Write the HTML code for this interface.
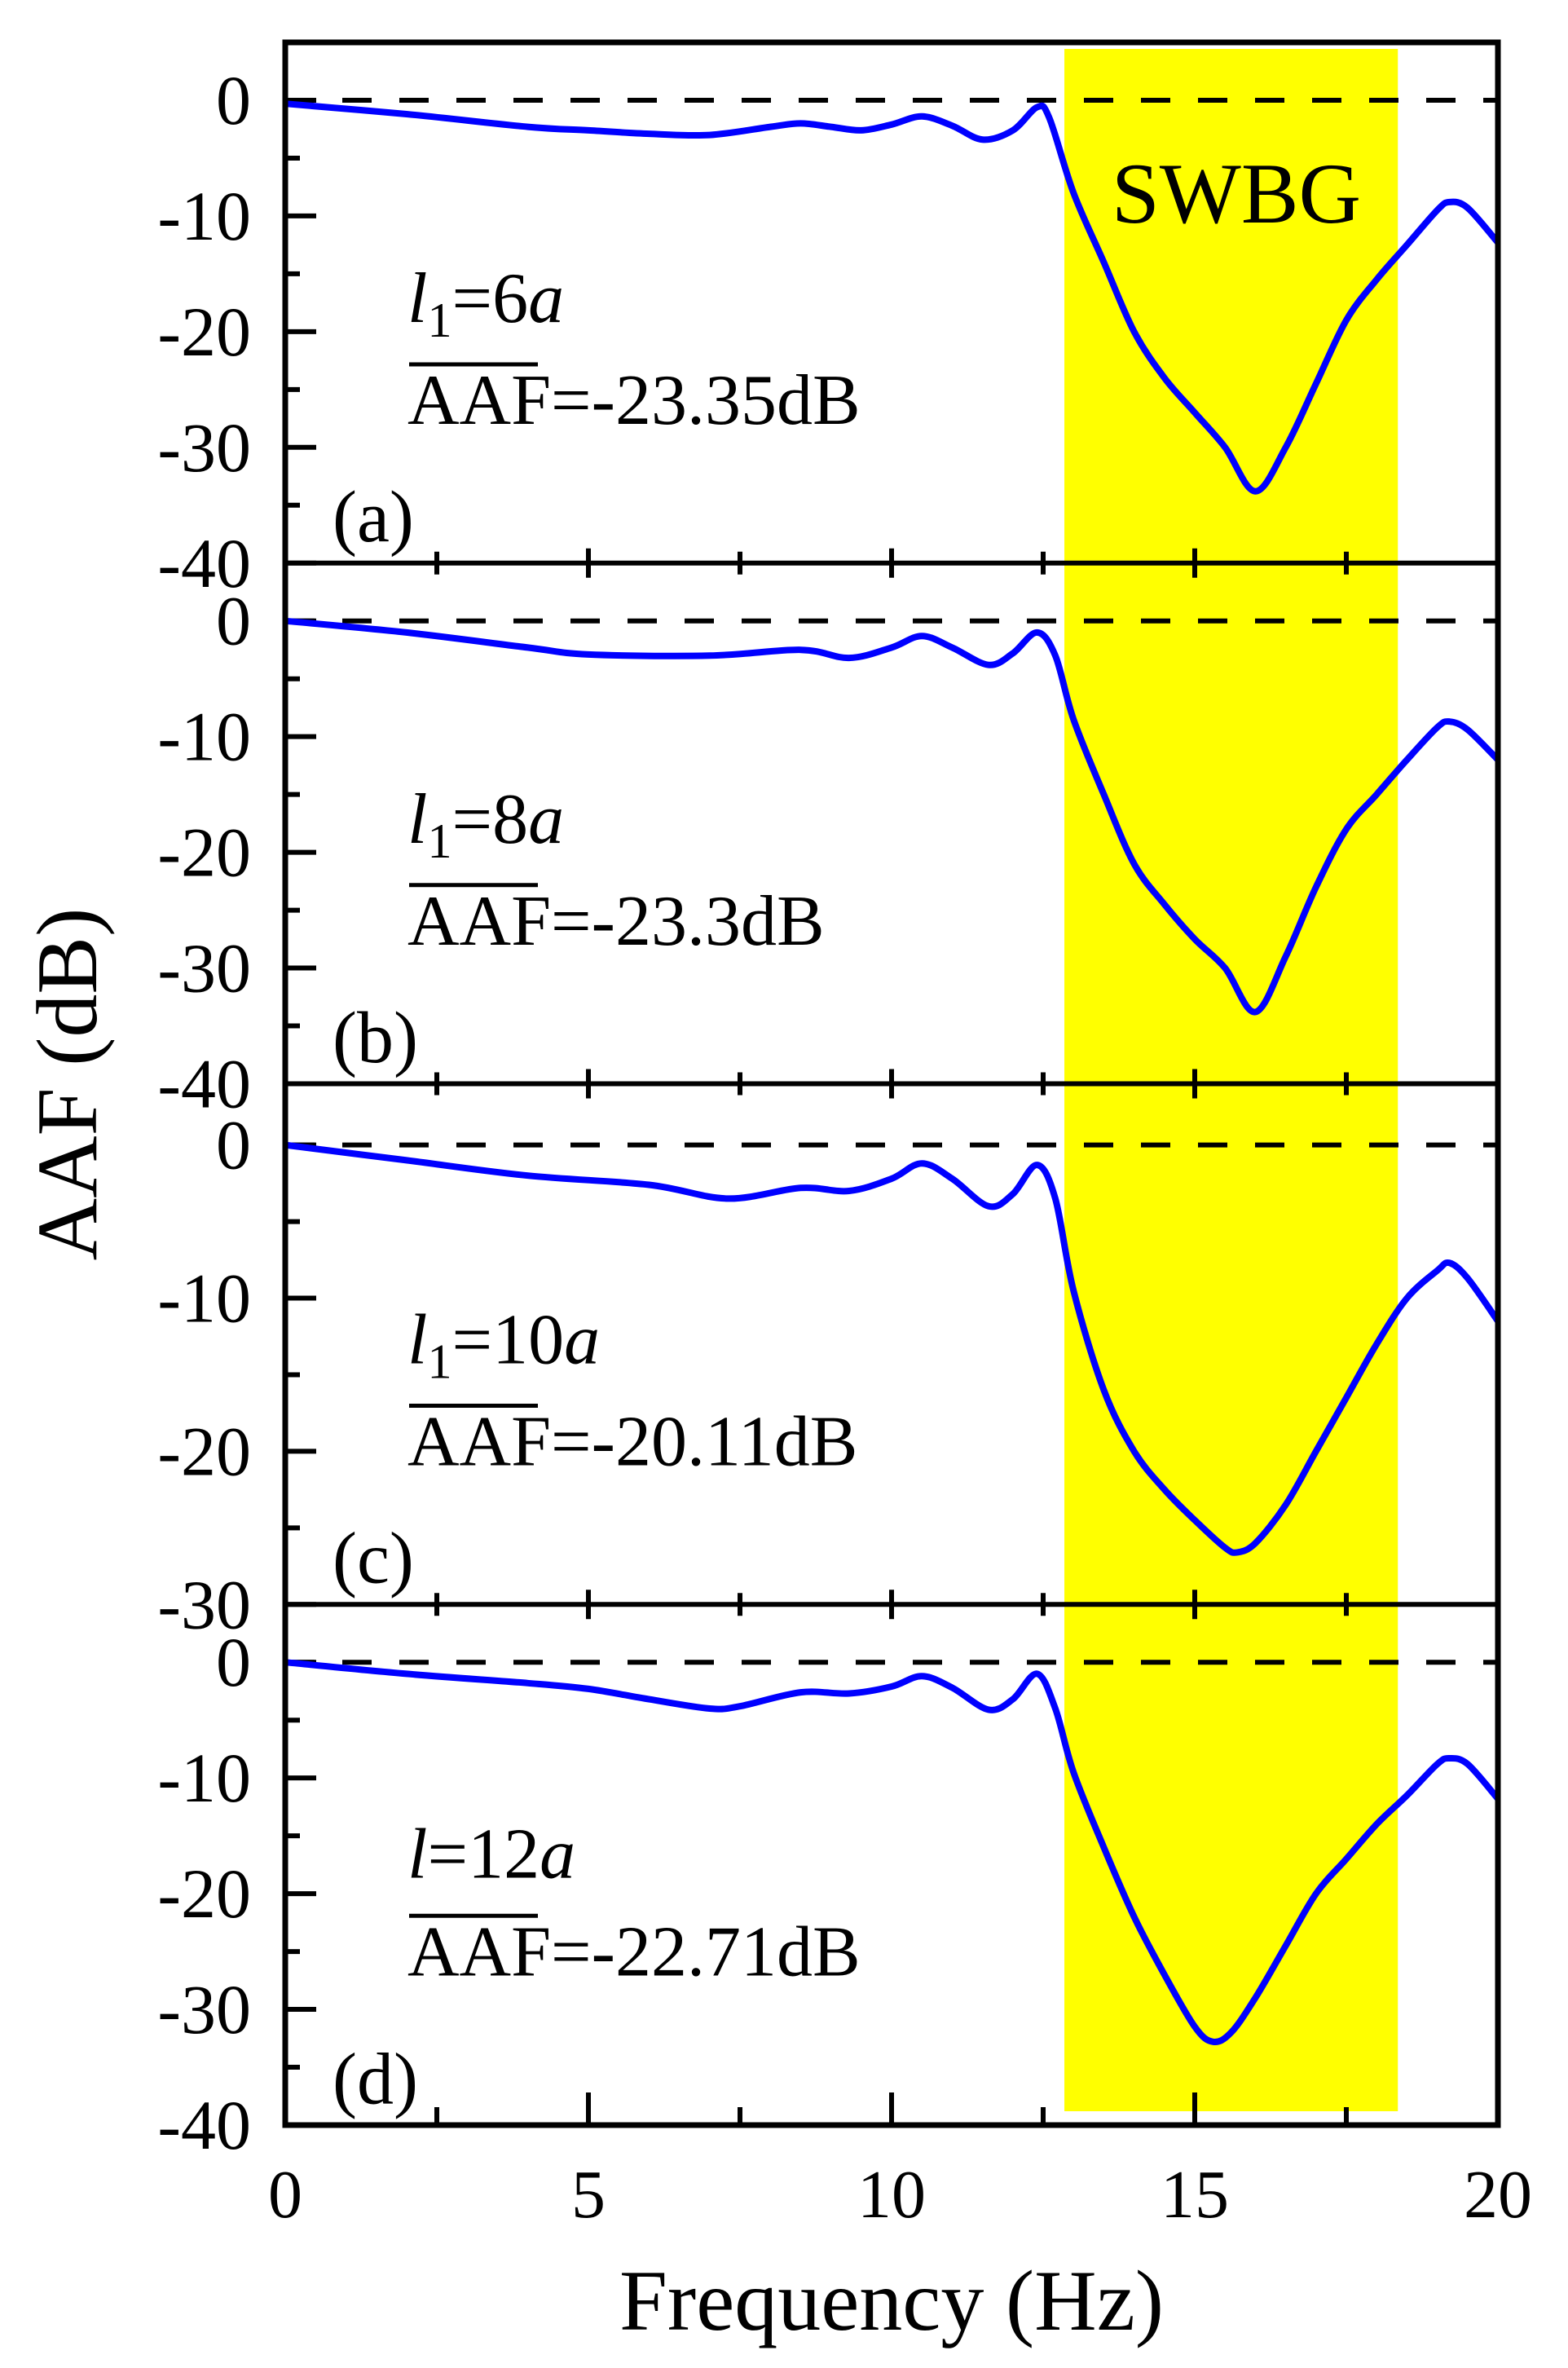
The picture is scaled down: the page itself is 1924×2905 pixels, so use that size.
<!DOCTYPE html>
<html><head><meta charset="utf-8"><style>
html,body{margin:0;padding:0;background:#fff;}
svg{display:block;font-family:"Liberation Serif",serif;}
</style></head><body>
<svg id="chart" width="1924" height="2905" viewBox="0 0 1924 2905" xmlns="http://www.w3.org/2000/svg"></svg>
<script>
const freqA=[0,2,4,5,6,7,8,8.5,9,9.5,10,10.5,11,11.5,12,12.4,12.6,13,13.5,14,14.5,15,15.5,16,16.5,17,17.5,18,18.5,19,19.2,19.5,20];
const aafA=[-0.3,-1.2,-2.3,-2.6,-2.9,-3.0,-2.3,-2.0,-2.3,-2.6,-2.1,-1.4,-2.2,-3.4,-2.6,-0.6,-1.5,-8,-14,-20,-24,-27,-30,-33.8,-30,-24.5,-19,-15.5,-12.5,-9.5,-8.8,-9.3,-12.3];
const freqB=[0,2,4,5,7,8.5,9.3,10,10.5,11,11.6,12,12.4,12.7,13,13.5,14,14.5,15,15.5,16,16.5,17,17.5,18,18.5,19,19.2,19.5,20];
const aafB=[0,-1,-2.3,-2.9,-3,-2.5,-3.2,-2.3,-1.3,-2.3,-3.8,-2.8,-1.0,-3,-8.5,-15,-21,-24.5,-27.5,-30,-33.8,-29,-23,-18,-15,-12,-9.2,-8.7,-9.4,-12];
const freqC=[0,2,4,6,7.3,8.5,9.3,10,10.5,11,11.6,12,12.4,12.7,13,13.5,14,14.5,15,15.5,15.7,16,16.5,17,17.5,18,18.5,19,19.2,19.5,20];
const aafC=[0,-1.0,-2.0,-2.6,-3.5,-2.8,-3.0,-2.2,-1.2,-2.2,-4.0,-3.2,-1.3,-3.5,-9.5,-16,-20,-22.5,-24.5,-26.3,-26.6,-26,-23.5,-20,-16.5,-13,-10,-8.2,-7.7,-8.7,-11.5];
const freqD=[0,2,4,5,6,7,7.5,8.5,9.3,10,10.5,11,11.6,12,12.4,12.7,13,13.5,14,14.5,15,15.3,15.6,16,16.5,17,17.5,18,18.5,19,19.2,19.5,20];
const aafD=[0,-1.0,-1.8,-2.3,-3.2,-4.0,-3.8,-2.6,-2.7,-2.1,-1.2,-2.2,-4.1,-3.2,-1.0,-4,-9.5,-16,-22,-27,-31.5,-32.8,-32,-29,-24.5,-20,-17,-14,-11.5,-8.8,-8.3,-8.8,-11.8];
const yMins=[-40,-40,-30,-40];
const yMaxs=[5,5,4,5];
const yTickLabels=[["0","-10","-20","-30","-40"],["0","-10","-20","-30","-40"],["0","-10","-20","-30"],["0","-10","-20","-30","-40"]];
const xTickLabels=["0","5","10","15","20"];
const panelLetters=["(a)","(b)","(c)","(d)"];
const lineTexts=[["l","1","=6a"],["l","1","=8a"],["l","1","=10a"],["l","","=12a"]];
const aafTexts=["=-23.35dB","=-23.3dB","=-20.11dB","=-22.71dB"];
const bandStart=12.85, bandEnd=18.35;

const NS="http://www.w3.org/2000/svg";
const svg=document.getElementById('chart');
const L=350,R=1838,TOP=52,PH=638.75;
const xs=f=>L+(f/20)*(R-L);
function mk(tag,attrs,parent){const e=document.createElementNS(NS,tag);for(const k in attrs)e.setAttribute(k,attrs[k]);(parent||svg).appendChild(e);return e;}
const series=[[freqA,aafA],[freqB,aafB],[freqC,aafC],[freqD,aafD]];

const band=mk('rect',{x:xs(bandStart),y:TOP+8,width:xs(bandEnd)-xs(bandStart),height:PH*4-25,fill:'#ffff00'});



function path(fx,fy,ys){
  const p=fx.map((f,i)=>[xs(f),ys(fy[i])]);
  let d='M'+p[0][0].toFixed(1)+','+p[0][1].toFixed(1);
  for(let i=0;i<p.length-1;i++){
    const p0=p[Math.max(0,i-1)],p1=p[i],p2=p[i+1],p3=p[Math.min(p.length-1,i+2)];
    const c1=[p1[0]+(p2[0]-p0[0])/6,p1[1]+(p2[1]-p0[1])/6];
    const c2=[p2[0]-(p3[0]-p1[0])/6,p2[1]-(p3[1]-p1[1])/6];
    d+=`C${c1[0].toFixed(1)},${c1[1].toFixed(1)} ${c2[0].toFixed(1)},${c2[1].toFixed(1)} ${p2[0].toFixed(1)},${p2[1].toFixed(1)}`;
  }
  return d;
}

for(let k=0;k<4;k++){
  const top=TOP+k*PH,bot=top+PH;
  const ymin=yMins[k],ymax=yMaxs[k];
  const ys=v=>top+(ymax-v)/(ymax-ymin)*PH;
  const g=mk('g',{});
  
  
  const z=mk('line',{x1:L,x2:R,y1:ys(0),y2:ys(0),stroke:'#000','stroke-width':6,'stroke-dasharray':'36 34'},g);
  
  
  for(let v=0;v>=ymin;v-=5){
    const major=v%10===0;
    mk('line',{x1:L,x2:L+(major?38:18),y1:ys(v),y2:ys(v),stroke:'#000','stroke-width':6},g);
  }
  yTickLabels[k].forEach(t=>{
    const v=parseFloat(t);
    const tx=mk('text',{x:308,y:ys(v)+29,'font-size':86,'text-anchor':'end'},g);
    tx.textContent=t;
    
    
  });
  for(let f=0;f<=20;f+=2.5){
    const major=f%5===0;
    if(k<3){mk('line',{x1:xs(f),x2:xs(f),y1:bot-(major?18:14),y2:bot+(major?18:14),stroke:'#000','stroke-width':6},g);}
    else{mk('line',{x1:xs(f),x2:xs(f),y1:bot,y2:bot-(major?40:22),stroke:'#000','stroke-width':6},g);}
  }
  const c=mk('path',{d:path(series[k][0],series[k][1],ys),fill:'none',stroke:'#0000ff','stroke-width':8,'stroke-linejoin':'round'},g);
  
  
  const lt=mk('text',{x:500,y:top+(k===3?335:343),'font-size':88},g);
  
  
  const t1=mk('tspan',{'font-style':'italic'},lt);t1.textContent=lineTexts[k][0];
  if(lineTexts[k][1]){const t2=mk('tspan',{'font-size':60,dy:18},lt);t2.textContent=lineTexts[k][1];}
  const eq=lineTexts[k][2];
  const t3=mk('tspan',{dy:lineTexts[k][1]?-18:0},lt);t3.textContent=eq.slice(0,-1);
  const t4=mk('tspan',{'font-style':'italic'},lt);t4.textContent='a';
  const ay=top+(k===3?455:468);
  const at=mk('text',{x:500,y:ay,'font-size':88},g);
  
  
  const a1=mk('tspan',{},at);a1.textContent='AAF';
  const a2=mk('tspan',{},at);a2.textContent=aafTexts[k];
  mk('line',{x1:502,x2:660,y1:ay-73,y2:ay-73,stroke:'#000','stroke-width':5},g);
  const pl=mk('text',{x:408,y:top+612,'font-size':90},g);
  pl.textContent=panelLetters[k];
  
  
  mk('line',{x1:L,x2:R,y1:bot,y2:bot,stroke:'#000','stroke-width':6},g);
}
const fr=mk('rect',{x:L,y:TOP,width:R-L,height:PH*4,fill:'none',stroke:'#000','stroke-width':7});


xTickLabels.forEach(t=>{
  const tx=mk('text',{x:xs(parseFloat(t)),y:2720,'font-size':84,'text-anchor':'middle'});
  tx.textContent=t;
  
  
});
const xt=mk('text',{x:1094,y:2858,'font-size':106,'text-anchor':'middle'});
xt.textContent='Frequency (Hz)';


const yt=mk('text',{x:0,y:0,'font-size':106,'text-anchor':'middle',transform:'translate(118,1330) rotate(-90)'});
yt.textContent='AAF (dB)';


const sw=mk('text',{x:1517,y:273,'font-size':106,'text-anchor':'middle'});
sw.textContent='SWBG';


</script>
</body></html>
